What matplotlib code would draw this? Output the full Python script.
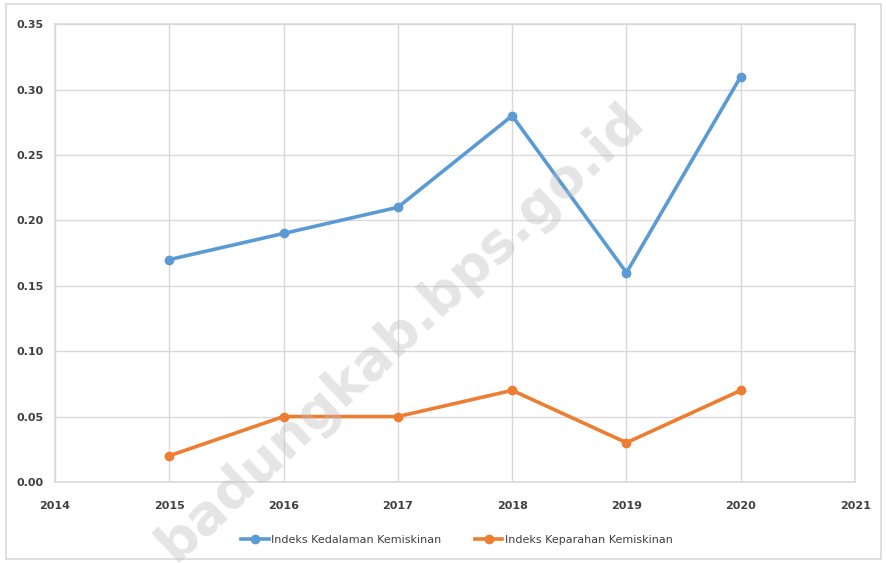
import matplotlib.pyplot as plt
from matplotlib.patches import Rectangle

years = [2015, 2016, 2017, 2018, 2019, 2020]
kedalaman = [0.17, 0.19, 0.21, 0.28, 0.16, 0.31]
keparahan = [0.02, 0.05, 0.05, 0.07, 0.03, 0.07]
labels = ['Indeks Kedalaman Kemiskinan', 'Indeks Keparahan Kemiskinan']
x_ticks = [2014, 2015, 2016, 2017, 2018, 2019, 2020, 2021]
y_ticks = [0.00, 0.05, 0.10, 0.15, 0.20, 0.25, 0.30, 0.35]

fig = plt.figure(figsize=(8.87, 5.63), dpi=100)
ax = fig.add_axes([0.062, 0.144, 0.902, 0.813])

ax.plot(years, kedalaman, color='#5B9BD5', lw=2.6, marker='o', ms=6, label=labels[0], zorder=3)
ax.plot(years, keparahan, color='#ED7D31', lw=2.6, marker='o', ms=6, label=labels[1], zorder=3)

ax.set_xlim(2014, 2021)
ax.set_ylim(0, 0.35)
ax.set_xticks(x_ticks)
ax.set_yticks(y_ticks)
ax.set_yticklabels(['%.2f' % v for v in y_ticks])
ax.grid(True, color='#d9d9d9', lw=1)
ax.set_axisbelow(True)
for s in ax.spines.values():
    s.set_color('#d9d9d9')
    s.set_linewidth(1.2)
ax.tick_params(length=0, labelsize=8, labelcolor='#404040', pad=8)
for t in ax.get_xticklabels() + ax.get_yticklabels():
    t.set_fontweight('bold')
ax.tick_params(axis='x', pad=14)

fig.legend(loc='center', bbox_to_anchor=(0.515, 0.041), ncol=2, frameon=False,
           fontsize=8, labelcolor='#404040', handlelength=2.5, handletextpad=0.2,
           columnspacing=3)

# watermark
fig.text(0.452, 0.41, 'badungkab.bps.go.id', fontsize=39, fontweight='bold',
         color='#bfbfbf', alpha=0.4, rotation=43, ha='center', va='center', zorder=10)

# outer border
fig.patches.append(Rectangle((0.007, 0.007), 0.986, 0.986, transform=fig.transFigure,
                             fill=False, edgecolor='#d9d9d9', lw=1.2))

plt.savefig('out.png', dpi=100)
